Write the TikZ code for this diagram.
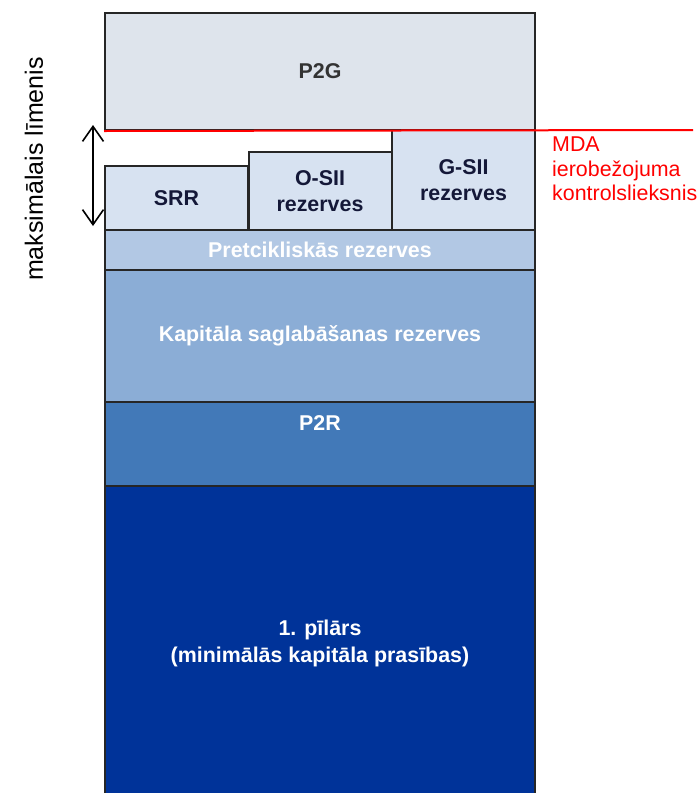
\documentclass[tikz,border=0pt]{standalone}
\usepackage{fontspec}
\setmainfont{Liberation Sans}
\usepackage{xcolor}
\usetikzlibrary{positioning,arrows.meta}
\definecolor{pgfill}{HTML}{DEE4EC}
\definecolor{bufill}{HTML}{D7E2F1}
\definecolor{ccybfill}{HTML}{B2C8E4}
\definecolor{ccbfill}{HTML}{8BADD6}
\definecolor{ptrfill}{HTML}{4279B8}
\definecolor{pilfill}{HTML}{003399}
\definecolor{navytext}{HTML}{141838}
\definecolor{mdared}{HTML}{FF0000}

\begin{document}
\begin{tikzpicture}[x=1pt, y=-1pt,
    layer/.style={rectangle, draw=black!85, line width=2pt, inner sep=0pt, minimum width=430pt},
    buffer/.style={rectangle, draw=black!85, line width=2pt, inner sep=0pt, minimum width=143pt,
        fill=bufill, text=navytext, align=center, font=\bfseries\fontsize{21.4}{26}\selectfont},
    wtext/.style={text=white, align=center, font=\bfseries\fontsize{21.4}{27}\selectfont},
    arrow/.style={{Straight Barb[length=15pt,width=21pt]}-{Straight Barb[length=15pt,width=21pt]}, line width=1.6pt}
]
    \clip (0,0) rectangle (699,793);

    \node[layer, fill=pgfill, minimum height=117pt, text=black!80, font=\bfseries\fontsize{21.4}{26}\selectfont] (p2g) at (320,71.5) {P2G};

    \node[buffer, minimum height=64pt] (srr) at (176.5,198) {SRR};
    \node[buffer, minimum height=78pt] (osii) at (320,191) {O-SII\\rezerves};
    \node[buffer, minimum height=100pt] (gsii) at (463.5,180) {G-SII\\rezerves};

    \node[layer, fill=ccybfill, minimum height=40pt, wtext] (ccyb) at (320,250) {Pretcikliskās rezerves};
    \node[layer, fill=ccbfill, minimum height=132pt, wtext] (ccb) at (320,336) {Kapitāla saglabāšanas rezerves};
    \node[layer, fill=ptrfill, minimum height=84pt] (p2r) at (320,444) {};
    \node[layer, fill=pilfill, minimum height=320pt] (pil1) at (320,646) {};

    \node[wtext] (p2rtext) at (320,423) {P2R};
    \node[wtext] (piltext) at (320,643) {1. pīlārs\\(minimālās kapitāla prasības)};

    % MDA line
    \coordinate (mdaend) at (693,130);
    \draw[mdared, line width=2pt] (p2g.south west) -- (mdaend);
    \node[anchor=north west, inner sep=0pt, text=mdared, align=left, font=\fontsize{21.4}{24.5}\selectfont] (mda) at (552,137) {MDA\\ierobežojuma\\kontrolslieksnis};

    % maximum level
    \coordinate (arrtop) at (93,125);
    \coordinate (arrbot) at (93,226);
    \draw[arrow] (arrtop) -- (arrbot);
    \node[rotate=90, font=\fontsize{25}{30}\selectfont] (maxlvl) at (34,169) {maksimālais līmenis};
\end{tikzpicture}
\end{document}
